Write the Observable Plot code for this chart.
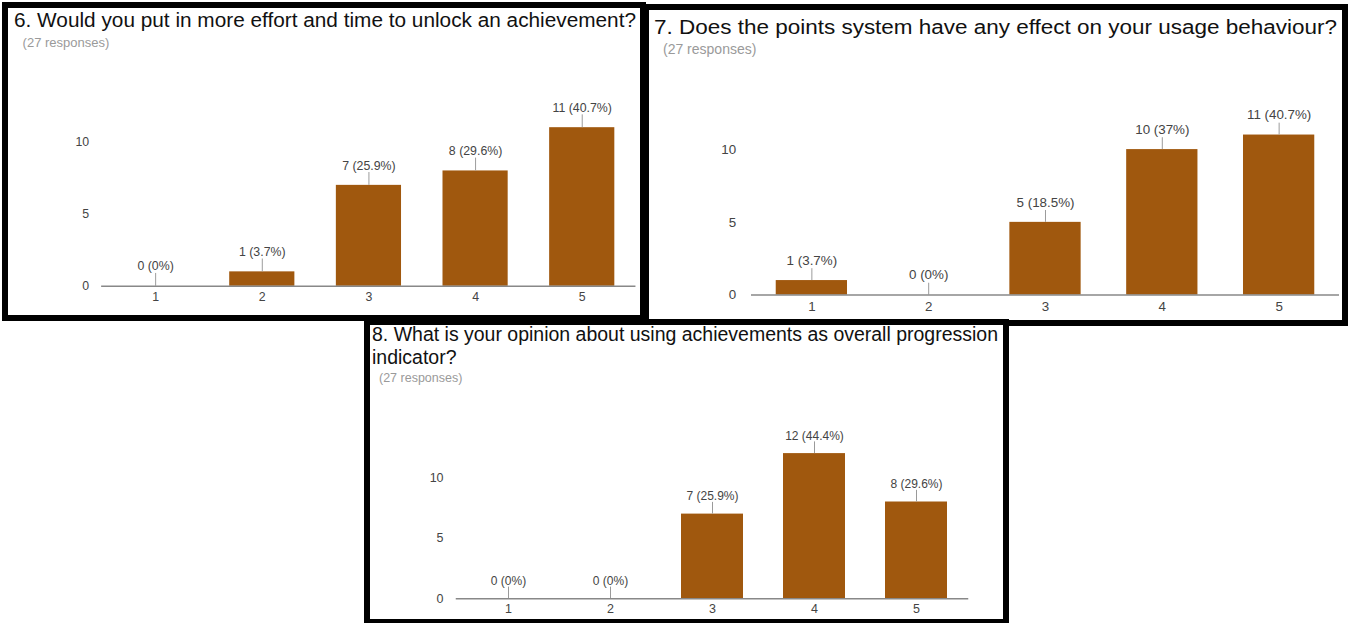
<!DOCTYPE html>
<html>
<head>
<meta charset="utf-8">
<script src="https://cdn.jsdelivr.net/npm/d3@7"></script>
<script src="https://cdn.jsdelivr.net/npm/@observablehq/plot@0.6"></script>
<style>
  html, body { margin: 0; padding: 0; background: #fff; }
  #page { position: relative; width: 1354px; height: 623px; overflow: hidden; background: #fff;
          font-family: "Liberation Sans", Arial, sans-serif; }
  .panel { position: absolute; box-sizing: border-box; border: 6px solid #000; background: #fff; overflow: hidden; }
  .panel svg { position: absolute; left: 0; top: 0; background: transparent; }
  .panel svg g[aria-label^="x-axis"], .panel svg g[aria-label^="y-axis"] { font-size: var(--tick); fill: #444; }
  .panel svg g[aria-label^="x-axis"] text, .panel svg g[aria-label^="y-axis"] text { font-size: var(--tick); }
  .title { position: absolute; color: #111; font-size: 20px; white-space: nowrap; }
  .title span { display: inline-block; transform-origin: 0 50%; }
  .sub { position: absolute; color: #9a9a9a; white-space: nowrap; }
</style>
</head>
<body>
<div id="page"></div>
<script>
// ---- data ----
const categories = ["1", "2", "3", "4", "5"];
const yTicks = [0, 5, 10];
const subtitle = "(27 responses)";

const q6Title = ["6. Would you put in more effort and time to unlock an achievement?"];
const q6Counts = [0, 1, 7, 8, 11];
const q6Labels = ["0 (0%)", "1 (3.7%)", "7 (25.9%)", "8 (29.6%)", "11 (40.7%)"];

const q7Title = ["7. Does the points system have any effect on your usage behaviour?"];
const q7Counts = [1, 0, 5, 10, 11];
const q7Labels = ["1 (3.7%)", "0 (0%)", "5 (18.5%)", "10 (37%)", "11 (40.7%)"];

const q8Title = ["8. What is your opinion about using achievements as overall progression", "indicator?"];
const q8Counts = [0, 0, 7, 12, 8];
const q8Labels = ["0 (0%)", "0 (0%)", "7 (25.9%)", "12 (44.4%)", "8 (29.6%)"];

// ---- layout ----
const panels = [
  {title: q6Title, counts: q6Counts, labels: q6Labels,
   box: [2, 2, 644, 319], svgW: 640, svgH: 307, mL: 94.3, mR: 4.6, mB: 25.7, y0: 281.3, y10: 135.3,
   yPad: 12.6, xPad: 6, tick: 12.5, val: 12.5, dy: 20, lead: 13,
   tTop: 2.07, tLeft: 6, tLH: 20, tW: 622, sTop: 28.3, sLeft: 14.6, sSize: 13},
  {title: q7Title, counts: q7Counts, labels: q7Labels,
   box: [643, 4, 705, 322], svgW: 700, svgH: 310, mL: 103, mR: 3, mB: 22.5, y0: 287.5, y10: 140.5,
   yPad: 15.5, xPad: 6.3, tick: 13.5, val: 13.5, dy: 20.3, lead: 12,
   tTop: 7.4, tLeft: 5, tLH: 20, tW: 683, sTop: 32.15, sLeft: 14, sSize: 14},
  {title: q8Title, counts: q8Counts, labels: q8Labels,
   box: [364, 319, 645, 306], svgW: 633, svgH: 294, mL: 85.75, mR: 34.75, mB: 20.7, y0: 273.3, y10: 152.3,
   yPad: 12.7, xPad: 5, tick: 12.5, val: 12, dy: 17.6, lead: 11.7,
   tTop: -1.9, tLeft: 2, tLH: 23.3, tW: 626, sTop: 46.9, sLeft: 9, sSize: 12.5}
];

const page = document.getElementById("page");
const barColor = "#a0580e";

for (const p of panels) {
  const data = categories.map((c, i) => ({cat: c, value: p.counts[i], label: p.labels[i]}));
  const div = document.createElement("div");
  div.className = "panel";
  const [l, t, w, h] = p.box;
  Object.assign(div.style, {left: l + "px", top: t + "px", width: w + "px", height: h + "px"});
  div.style.setProperty("--tick", p.tick + "px");
  page.appendChild(div);

  const chart = Plot.plot({
    width: p.svgW,
    height: p.svgH,
    marginLeft: p.mL,
    marginRight: p.mR,
    marginBottom: p.mB,
    marginTop: 0,
    style: {fontFamily: '"Liberation Sans", Arial, sans-serif', fontSize: p.tick + "px", color: "#444", background: "transparent", overflow: "visible"},
    x: {domain: categories, paddingInner: 0.39, paddingOuter: 0.195, tickSize: 0, tickPadding: p.xPad, label: null},
    y: {domain: [0, 10], range: [p.y0, p.y10], ticks: yTicks, tickSize: 0, tickPadding: p.yPad, label: null},
    marks: [
      Plot.barY(data, {x: "cat", y: "value", fill: barColor}),
      Plot.ruleX(data, {x: "cat", y1: "value", y2: "value", insetTop: -p.lead, stroke: "#9a9a9a", strokeWidth: 1}),
      Plot.text(data, {x: "cat", y: "value", text: "label", dy: -p.dy, fill: "#444", fontSize: p.val}),
      Plot.ruleY([0], {stroke: "#888", strokeWidth: 1.5})
    ]
  });
  div.appendChild(chart);

  const tdiv = document.createElement("div");
  tdiv.className = "title";
  Object.assign(tdiv.style, {left: p.tLeft + "px", top: p.tTop + "px", lineHeight: p.tLH + "px"});
  const spans = p.title.map(line => {
    const s = document.createElement("span");
    s.textContent = line;
    const row = document.createElement("div");
    row.appendChild(s);
    tdiv.appendChild(row);
    return s;
  });
  div.appendChild(tdiv);
  const k = p.tW / spans[0].getBoundingClientRect().width;
  spans.forEach(s => s.style.transform = `scaleX(${k})`);

  const sdiv = document.createElement("div");
  sdiv.className = "sub";
  sdiv.textContent = subtitle;
  Object.assign(sdiv.style, {left: p.sLeft + "px", top: p.sTop + "px", fontSize: p.sSize + "px", lineHeight: p.sSize + "px"});
  div.appendChild(sdiv);
}
</script>
</body>
</html>
